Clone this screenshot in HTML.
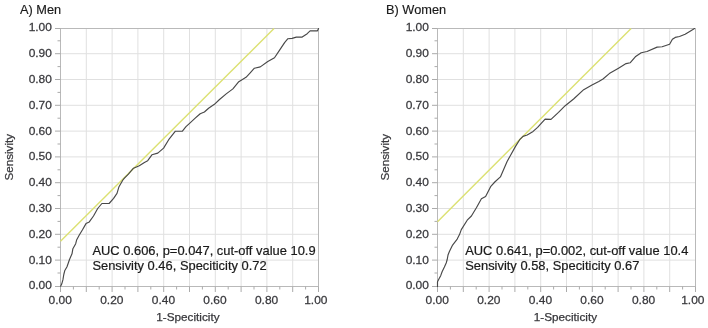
<!DOCTYPE html>
<html><head><meta charset="utf-8"><title>ROC curves</title>
<style>
html,body{margin:0;padding:0;background:#fff;}
svg{display:block;}
text{font-family:"Liberation Sans","DejaVu Sans",sans-serif;}
.tk{font-size:11.5px;fill:#38383c;stroke:#38383c;stroke-width:0.25px;}
.ax{font-size:10.8px;fill:#38383c;stroke:#38383c;stroke-width:0.25px;}
.tt{font-size:12.3px;fill:#1a1a1a;stroke:#1a1a1a;stroke-width:0.15px;}
.an{font-size:12px;fill:#1a1a1a;stroke:#1a1a1a;stroke-width:0.2px;}
</style></head>
<body>
<svg width="708" height="328" viewBox="0 0 708 328">
<rect width="708" height="328" fill="#ffffff"/>
<line x1="86.30" y1="28.5" x2="86.30" y2="286.5" stroke="#e0e0e0" stroke-width="1"/>
<line x1="60.5" y1="260.10" x2="318.5" y2="260.10" stroke="#e0e0e0" stroke-width="1"/>
<line x1="112.10" y1="28.5" x2="112.10" y2="286.5" stroke="#e0e0e0" stroke-width="1"/>
<line x1="60.5" y1="234.30" x2="318.5" y2="234.30" stroke="#e0e0e0" stroke-width="1"/>
<line x1="137.90" y1="28.5" x2="137.90" y2="286.5" stroke="#e0e0e0" stroke-width="1"/>
<line x1="60.5" y1="208.50" x2="318.5" y2="208.50" stroke="#e0e0e0" stroke-width="1"/>
<line x1="163.70" y1="28.5" x2="163.70" y2="286.5" stroke="#e0e0e0" stroke-width="1"/>
<line x1="60.5" y1="182.70" x2="318.5" y2="182.70" stroke="#e0e0e0" stroke-width="1"/>
<line x1="189.50" y1="28.5" x2="189.50" y2="286.5" stroke="#e0e0e0" stroke-width="1"/>
<line x1="60.5" y1="156.90" x2="318.5" y2="156.90" stroke="#e0e0e0" stroke-width="1"/>
<line x1="215.30" y1="28.5" x2="215.30" y2="286.5" stroke="#e0e0e0" stroke-width="1"/>
<line x1="60.5" y1="131.10" x2="318.5" y2="131.10" stroke="#e0e0e0" stroke-width="1"/>
<line x1="241.10" y1="28.5" x2="241.10" y2="286.5" stroke="#e0e0e0" stroke-width="1"/>
<line x1="60.5" y1="105.30" x2="318.5" y2="105.30" stroke="#e0e0e0" stroke-width="1"/>
<line x1="266.90" y1="28.5" x2="266.90" y2="286.5" stroke="#e0e0e0" stroke-width="1"/>
<line x1="60.5" y1="79.50" x2="318.5" y2="79.50" stroke="#e0e0e0" stroke-width="1"/>
<line x1="292.70" y1="28.5" x2="292.70" y2="286.5" stroke="#e0e0e0" stroke-width="1"/>
<line x1="60.5" y1="53.70" x2="318.5" y2="53.70" stroke="#e0e0e0" stroke-width="1"/>
<rect x="60.5" y="28.5" width="258.00" height="258.00" fill="none" stroke="#b9b9b9" stroke-width="1"/>
<line x1="55.0" y1="286.50" x2="60.5" y2="286.50" stroke="#ababab" stroke-width="1"/>
<line x1="60.50" y1="286.5" x2="60.50" y2="292.0" stroke="#ababab" stroke-width="1"/>
<line x1="57.5" y1="273.00" x2="60.5" y2="273.00" stroke="#ababab" stroke-width="1"/>
<line x1="73.40" y1="286.5" x2="73.40" y2="289.5" stroke="#ababab" stroke-width="1"/>
<line x1="55.0" y1="260.10" x2="60.5" y2="260.10" stroke="#ababab" stroke-width="1"/>
<line x1="86.30" y1="286.5" x2="86.30" y2="292.0" stroke="#ababab" stroke-width="1"/>
<line x1="57.5" y1="247.20" x2="60.5" y2="247.20" stroke="#ababab" stroke-width="1"/>
<line x1="99.20" y1="286.5" x2="99.20" y2="289.5" stroke="#ababab" stroke-width="1"/>
<line x1="55.0" y1="234.30" x2="60.5" y2="234.30" stroke="#ababab" stroke-width="1"/>
<line x1="112.10" y1="286.5" x2="112.10" y2="292.0" stroke="#ababab" stroke-width="1"/>
<line x1="57.5" y1="221.40" x2="60.5" y2="221.40" stroke="#ababab" stroke-width="1"/>
<line x1="125.00" y1="286.5" x2="125.00" y2="289.5" stroke="#ababab" stroke-width="1"/>
<line x1="55.0" y1="208.50" x2="60.5" y2="208.50" stroke="#ababab" stroke-width="1"/>
<line x1="137.90" y1="286.5" x2="137.90" y2="292.0" stroke="#ababab" stroke-width="1"/>
<line x1="57.5" y1="195.60" x2="60.5" y2="195.60" stroke="#ababab" stroke-width="1"/>
<line x1="150.80" y1="286.5" x2="150.80" y2="289.5" stroke="#ababab" stroke-width="1"/>
<line x1="55.0" y1="182.70" x2="60.5" y2="182.70" stroke="#ababab" stroke-width="1"/>
<line x1="163.70" y1="286.5" x2="163.70" y2="292.0" stroke="#ababab" stroke-width="1"/>
<line x1="57.5" y1="169.80" x2="60.5" y2="169.80" stroke="#ababab" stroke-width="1"/>
<line x1="176.60" y1="286.5" x2="176.60" y2="289.5" stroke="#ababab" stroke-width="1"/>
<line x1="55.0" y1="156.90" x2="60.5" y2="156.90" stroke="#ababab" stroke-width="1"/>
<line x1="189.50" y1="286.5" x2="189.50" y2="292.0" stroke="#ababab" stroke-width="1"/>
<line x1="57.5" y1="144.00" x2="60.5" y2="144.00" stroke="#ababab" stroke-width="1"/>
<line x1="202.40" y1="286.5" x2="202.40" y2="289.5" stroke="#ababab" stroke-width="1"/>
<line x1="55.0" y1="131.10" x2="60.5" y2="131.10" stroke="#ababab" stroke-width="1"/>
<line x1="215.30" y1="286.5" x2="215.30" y2="292.0" stroke="#ababab" stroke-width="1"/>
<line x1="57.5" y1="118.20" x2="60.5" y2="118.20" stroke="#ababab" stroke-width="1"/>
<line x1="228.20" y1="286.5" x2="228.20" y2="289.5" stroke="#ababab" stroke-width="1"/>
<line x1="55.0" y1="105.30" x2="60.5" y2="105.30" stroke="#ababab" stroke-width="1"/>
<line x1="241.10" y1="286.5" x2="241.10" y2="292.0" stroke="#ababab" stroke-width="1"/>
<line x1="57.5" y1="92.40" x2="60.5" y2="92.40" stroke="#ababab" stroke-width="1"/>
<line x1="254.00" y1="286.5" x2="254.00" y2="289.5" stroke="#ababab" stroke-width="1"/>
<line x1="55.0" y1="79.50" x2="60.5" y2="79.50" stroke="#ababab" stroke-width="1"/>
<line x1="266.90" y1="286.5" x2="266.90" y2="292.0" stroke="#ababab" stroke-width="1"/>
<line x1="57.5" y1="66.60" x2="60.5" y2="66.60" stroke="#ababab" stroke-width="1"/>
<line x1="279.80" y1="286.5" x2="279.80" y2="289.5" stroke="#ababab" stroke-width="1"/>
<line x1="55.0" y1="53.70" x2="60.5" y2="53.70" stroke="#ababab" stroke-width="1"/>
<line x1="292.70" y1="286.5" x2="292.70" y2="292.0" stroke="#ababab" stroke-width="1"/>
<line x1="57.5" y1="40.80" x2="60.5" y2="40.80" stroke="#ababab" stroke-width="1"/>
<line x1="305.60" y1="286.5" x2="305.60" y2="289.5" stroke="#ababab" stroke-width="1"/>
<line x1="55.0" y1="28.50" x2="60.5" y2="28.50" stroke="#ababab" stroke-width="1"/>
<line x1="318.50" y1="286.5" x2="318.50" y2="292.0" stroke="#ababab" stroke-width="1"/>
<text transform="translate(51.90,289.30) scale(1.04,1)" text-anchor="end" class="tk">0.00</text>
<text transform="translate(51.90,263.50) scale(1.04,1)" text-anchor="end" class="tk">0.10</text>
<text transform="translate(51.90,237.70) scale(1.04,1)" text-anchor="end" class="tk">0.20</text>
<text transform="translate(51.90,211.90) scale(1.04,1)" text-anchor="end" class="tk">0.30</text>
<text transform="translate(51.90,186.10) scale(1.04,1)" text-anchor="end" class="tk">0.40</text>
<text transform="translate(51.90,160.30) scale(1.04,1)" text-anchor="end" class="tk">0.50</text>
<text transform="translate(51.90,134.50) scale(1.04,1)" text-anchor="end" class="tk">0.60</text>
<text transform="translate(51.90,108.70) scale(1.04,1)" text-anchor="end" class="tk">0.70</text>
<text transform="translate(51.90,82.90) scale(1.04,1)" text-anchor="end" class="tk">0.80</text>
<text transform="translate(51.90,57.10) scale(1.04,1)" text-anchor="end" class="tk">0.90</text>
<text transform="translate(51.90,31.30) scale(1.04,1)" text-anchor="end" class="tk">1.00</text>
<text transform="translate(60.20,303.9) scale(1.04,1)" text-anchor="middle" class="tk">0.00</text>
<text transform="translate(111.80,303.9) scale(1.04,1)" text-anchor="middle" class="tk">0.20</text>
<text transform="translate(163.40,303.9) scale(1.04,1)" text-anchor="middle" class="tk">0.40</text>
<text transform="translate(215.00,303.9) scale(1.04,1)" text-anchor="middle" class="tk">0.60</text>
<text transform="translate(266.60,303.9) scale(1.04,1)" text-anchor="middle" class="tk">0.80</text>
<text transform="translate(315.80,303.9) scale(1.04,1)" text-anchor="middle" class="tk">1.00</text>
<line x1="60.5" y1="241.3" x2="274" y2="28.5" stroke="#dce172" stroke-width="1.4"/>
<polyline points="60.6,286.2 61.7,284.1 62.9,279.9 63.8,274.5 64.7,270.8 67.0,266.7 68.3,263.0 69.5,259.5 72.0,253.8 72.9,248.7 75.7,243.7 76.6,240.1 79.3,235.0 82.5,229.8 86.0,223.6 89.3,221.9 93.5,216.0 97.7,208.5 101.9,203.5 109.1,203.5 113.6,198.4 117.0,193.4 119.0,186.7 122.9,180.0 124.2,178.3 128.4,174.1 133.5,168.2 139.3,165.7 144.4,162.4 147.7,160.7 151.9,154.8 157.8,153.1 163.6,148.1 168.7,139.7 175.4,131.2 182.4,131.2 186.0,126.6 190.1,122.9 195.2,118.2 200.2,113.7 204.4,112.0 208.6,108.2 214.4,104.3 219.5,99.5 226.2,93.9 232.9,88.9 238.8,81.7 246.0,77.3 250.2,72.8 254.4,68.2 260.3,66.9 267.8,61.5 274.5,57.7 279.6,50.1 284.6,42.6 287.9,38.7 292.1,38.4 296.3,37.1 302.2,37.1 307.2,33.7 310.1,30.9 317.3,30.9 318.6,28.5" fill="none" stroke="#484848" stroke-width="1.15" stroke-linejoin="round" stroke-linecap="round"/>
<text transform="translate(20,13.6) scale(1.04,1)" class="tt">A) Men</text>
<text transform="translate(92.4,254.8) scale(1.076,1)" class="an">AUC 0.606, p=0.047, cut-off value 10.9</text>
<text transform="translate(92.4,269.9) scale(1.076,1)" class="an">Sensivity 0.46, Speciticity 0.72</text>
<text x="187.9" y="320.8" text-anchor="middle" class="ax" textLength="63.2" lengthAdjust="spacingAndGlyphs">1-Speciticity</text>
<text transform="translate(12.6,157.2) rotate(-90)" text-anchor="middle" class="ax" textLength="46.5" lengthAdjust="spacingAndGlyphs">Sensivity</text>
<line x1="463.30" y1="28.5" x2="463.30" y2="286.5" stroke="#e0e0e0" stroke-width="1"/>
<line x1="437.5" y1="260.10" x2="695.5" y2="260.10" stroke="#e0e0e0" stroke-width="1"/>
<line x1="489.10" y1="28.5" x2="489.10" y2="286.5" stroke="#e0e0e0" stroke-width="1"/>
<line x1="437.5" y1="234.30" x2="695.5" y2="234.30" stroke="#e0e0e0" stroke-width="1"/>
<line x1="514.90" y1="28.5" x2="514.90" y2="286.5" stroke="#e0e0e0" stroke-width="1"/>
<line x1="437.5" y1="208.50" x2="695.5" y2="208.50" stroke="#e0e0e0" stroke-width="1"/>
<line x1="540.70" y1="28.5" x2="540.70" y2="286.5" stroke="#e0e0e0" stroke-width="1"/>
<line x1="437.5" y1="182.70" x2="695.5" y2="182.70" stroke="#e0e0e0" stroke-width="1"/>
<line x1="566.50" y1="28.5" x2="566.50" y2="286.5" stroke="#e0e0e0" stroke-width="1"/>
<line x1="437.5" y1="156.90" x2="695.5" y2="156.90" stroke="#e0e0e0" stroke-width="1"/>
<line x1="592.30" y1="28.5" x2="592.30" y2="286.5" stroke="#e0e0e0" stroke-width="1"/>
<line x1="437.5" y1="131.10" x2="695.5" y2="131.10" stroke="#e0e0e0" stroke-width="1"/>
<line x1="618.10" y1="28.5" x2="618.10" y2="286.5" stroke="#e0e0e0" stroke-width="1"/>
<line x1="437.5" y1="105.30" x2="695.5" y2="105.30" stroke="#e0e0e0" stroke-width="1"/>
<line x1="643.90" y1="28.5" x2="643.90" y2="286.5" stroke="#e0e0e0" stroke-width="1"/>
<line x1="437.5" y1="79.50" x2="695.5" y2="79.50" stroke="#e0e0e0" stroke-width="1"/>
<line x1="669.70" y1="28.5" x2="669.70" y2="286.5" stroke="#e0e0e0" stroke-width="1"/>
<line x1="437.5" y1="53.70" x2="695.5" y2="53.70" stroke="#e0e0e0" stroke-width="1"/>
<rect x="437.5" y="28.5" width="258.00" height="258.00" fill="none" stroke="#b9b9b9" stroke-width="1"/>
<line x1="432.0" y1="286.50" x2="437.5" y2="286.50" stroke="#ababab" stroke-width="1"/>
<line x1="437.50" y1="286.5" x2="437.50" y2="292.0" stroke="#ababab" stroke-width="1"/>
<line x1="434.5" y1="273.00" x2="437.5" y2="273.00" stroke="#ababab" stroke-width="1"/>
<line x1="450.40" y1="286.5" x2="450.40" y2="289.5" stroke="#ababab" stroke-width="1"/>
<line x1="432.0" y1="260.10" x2="437.5" y2="260.10" stroke="#ababab" stroke-width="1"/>
<line x1="463.30" y1="286.5" x2="463.30" y2="292.0" stroke="#ababab" stroke-width="1"/>
<line x1="434.5" y1="247.20" x2="437.5" y2="247.20" stroke="#ababab" stroke-width="1"/>
<line x1="476.20" y1="286.5" x2="476.20" y2="289.5" stroke="#ababab" stroke-width="1"/>
<line x1="432.0" y1="234.30" x2="437.5" y2="234.30" stroke="#ababab" stroke-width="1"/>
<line x1="489.10" y1="286.5" x2="489.10" y2="292.0" stroke="#ababab" stroke-width="1"/>
<line x1="434.5" y1="221.40" x2="437.5" y2="221.40" stroke="#ababab" stroke-width="1"/>
<line x1="502.00" y1="286.5" x2="502.00" y2="289.5" stroke="#ababab" stroke-width="1"/>
<line x1="432.0" y1="208.50" x2="437.5" y2="208.50" stroke="#ababab" stroke-width="1"/>
<line x1="514.90" y1="286.5" x2="514.90" y2="292.0" stroke="#ababab" stroke-width="1"/>
<line x1="434.5" y1="195.60" x2="437.5" y2="195.60" stroke="#ababab" stroke-width="1"/>
<line x1="527.80" y1="286.5" x2="527.80" y2="289.5" stroke="#ababab" stroke-width="1"/>
<line x1="432.0" y1="182.70" x2="437.5" y2="182.70" stroke="#ababab" stroke-width="1"/>
<line x1="540.70" y1="286.5" x2="540.70" y2="292.0" stroke="#ababab" stroke-width="1"/>
<line x1="434.5" y1="169.80" x2="437.5" y2="169.80" stroke="#ababab" stroke-width="1"/>
<line x1="553.60" y1="286.5" x2="553.60" y2="289.5" stroke="#ababab" stroke-width="1"/>
<line x1="432.0" y1="156.90" x2="437.5" y2="156.90" stroke="#ababab" stroke-width="1"/>
<line x1="566.50" y1="286.5" x2="566.50" y2="292.0" stroke="#ababab" stroke-width="1"/>
<line x1="434.5" y1="144.00" x2="437.5" y2="144.00" stroke="#ababab" stroke-width="1"/>
<line x1="579.40" y1="286.5" x2="579.40" y2="289.5" stroke="#ababab" stroke-width="1"/>
<line x1="432.0" y1="131.10" x2="437.5" y2="131.10" stroke="#ababab" stroke-width="1"/>
<line x1="592.30" y1="286.5" x2="592.30" y2="292.0" stroke="#ababab" stroke-width="1"/>
<line x1="434.5" y1="118.20" x2="437.5" y2="118.20" stroke="#ababab" stroke-width="1"/>
<line x1="605.20" y1="286.5" x2="605.20" y2="289.5" stroke="#ababab" stroke-width="1"/>
<line x1="432.0" y1="105.30" x2="437.5" y2="105.30" stroke="#ababab" stroke-width="1"/>
<line x1="618.10" y1="286.5" x2="618.10" y2="292.0" stroke="#ababab" stroke-width="1"/>
<line x1="434.5" y1="92.40" x2="437.5" y2="92.40" stroke="#ababab" stroke-width="1"/>
<line x1="631.00" y1="286.5" x2="631.00" y2="289.5" stroke="#ababab" stroke-width="1"/>
<line x1="432.0" y1="79.50" x2="437.5" y2="79.50" stroke="#ababab" stroke-width="1"/>
<line x1="643.90" y1="286.5" x2="643.90" y2="292.0" stroke="#ababab" stroke-width="1"/>
<line x1="434.5" y1="66.60" x2="437.5" y2="66.60" stroke="#ababab" stroke-width="1"/>
<line x1="656.80" y1="286.5" x2="656.80" y2="289.5" stroke="#ababab" stroke-width="1"/>
<line x1="432.0" y1="53.70" x2="437.5" y2="53.70" stroke="#ababab" stroke-width="1"/>
<line x1="669.70" y1="286.5" x2="669.70" y2="292.0" stroke="#ababab" stroke-width="1"/>
<line x1="434.5" y1="40.80" x2="437.5" y2="40.80" stroke="#ababab" stroke-width="1"/>
<line x1="682.60" y1="286.5" x2="682.60" y2="289.5" stroke="#ababab" stroke-width="1"/>
<line x1="432.0" y1="28.50" x2="437.5" y2="28.50" stroke="#ababab" stroke-width="1"/>
<line x1="695.50" y1="286.5" x2="695.50" y2="292.0" stroke="#ababab" stroke-width="1"/>
<text transform="translate(428.90,289.30) scale(1.04,1)" text-anchor="end" class="tk">0.00</text>
<text transform="translate(428.90,263.50) scale(1.04,1)" text-anchor="end" class="tk">0.10</text>
<text transform="translate(428.90,237.70) scale(1.04,1)" text-anchor="end" class="tk">0.20</text>
<text transform="translate(428.90,211.90) scale(1.04,1)" text-anchor="end" class="tk">0.30</text>
<text transform="translate(428.90,186.10) scale(1.04,1)" text-anchor="end" class="tk">0.40</text>
<text transform="translate(428.90,160.30) scale(1.04,1)" text-anchor="end" class="tk">0.50</text>
<text transform="translate(428.90,134.50) scale(1.04,1)" text-anchor="end" class="tk">0.60</text>
<text transform="translate(428.90,108.70) scale(1.04,1)" text-anchor="end" class="tk">0.70</text>
<text transform="translate(428.90,82.90) scale(1.04,1)" text-anchor="end" class="tk">0.80</text>
<text transform="translate(428.90,57.10) scale(1.04,1)" text-anchor="end" class="tk">0.90</text>
<text transform="translate(428.90,31.30) scale(1.04,1)" text-anchor="end" class="tk">1.00</text>
<text transform="translate(437.20,303.9) scale(1.04,1)" text-anchor="middle" class="tk">0.00</text>
<text transform="translate(488.80,303.9) scale(1.04,1)" text-anchor="middle" class="tk">0.20</text>
<text transform="translate(540.40,303.9) scale(1.04,1)" text-anchor="middle" class="tk">0.40</text>
<text transform="translate(592.00,303.9) scale(1.04,1)" text-anchor="middle" class="tk">0.60</text>
<text transform="translate(643.60,303.9) scale(1.04,1)" text-anchor="middle" class="tk">0.80</text>
<text transform="translate(692.80,303.9) scale(1.04,1)" text-anchor="middle" class="tk">1.00</text>
<line x1="437.5" y1="221.7" x2="631.1" y2="28.5" stroke="#dce172" stroke-width="1.4"/>
<polyline points="437.5,286.5 437.5,281.8 438.9,279.0 440.8,275.4 442.1,271.7 444.4,267.1 446.2,263.0 447.2,259.5 448.1,254.7 449.4,251.5 452.6,245.1 457.2,239.1 459.5,234.6 461.3,229.6 467.2,220.2 471.4,216.0 476.4,207.7 481.4,198.8 485.6,196.4 490.6,186.7 494.8,182.0 500.4,176.9 507.1,161.5 515.5,146.4 519.7,139.7 523.0,136.4 527.2,135.0 533.1,131.4 537.6,127.4 545.1,119.1 551.0,119.4 558.5,112.4 565.2,105.7 573.6,99.0 583.7,89.7 592.0,85.0 598.8,81.4 603.0,79.0 609.3,73.6 618.5,68.2 626.1,63.6 630.3,62.7 635.3,56.8 641.2,52.7 647.0,51.5 657.1,47.1 662.1,46.8 669.6,44.3 672.4,39.3 675.2,37.4 679.5,36.5 685.1,34.3 690.1,31.2 694.5,28.6" fill="none" stroke="#484848" stroke-width="1.15" stroke-linejoin="round" stroke-linecap="round"/>
<text transform="translate(386,13.6) scale(1.04,1)" class="tt">B) Women</text>
<text transform="translate(465.2,254.8) scale(1.076,1)" class="an">AUC 0.641, p=0.002, cut-off value 10.4</text>
<text transform="translate(465.2,269.9) scale(1.076,1)" class="an">Sensivity 0.58, Speciticity 0.67</text>
<text x="565.4" y="320.8" text-anchor="middle" class="ax" textLength="63.2" lengthAdjust="spacingAndGlyphs">1-Speciticity</text>
<text transform="translate(389.4,157.2) rotate(-90)" text-anchor="middle" class="ax" textLength="46.5" lengthAdjust="spacingAndGlyphs">Sensivity</text>
</svg>
</body></html>
